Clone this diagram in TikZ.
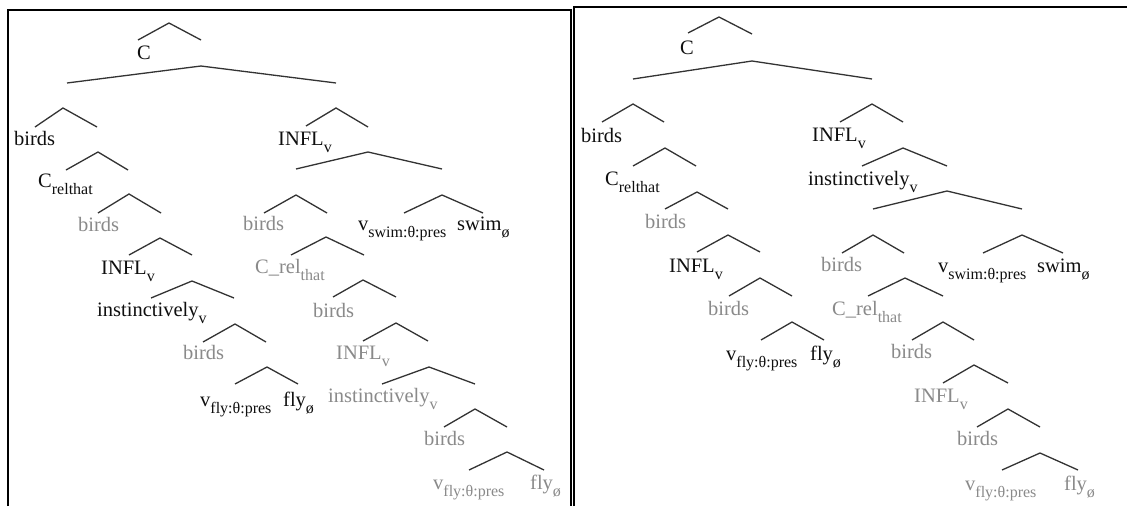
\documentclass[tikz,border=0pt]{standalone}
\usepackage{fontspec}
\setmainfont{Liberation Serif}
\definecolor{inkblack}{HTML}{0F0F0F}
\definecolor{inkgray}{HTML}{8A8A8A}
\definecolor{branchcol}{HTML}{333333}
\newcommand\lsub[1]{\raisebox{-7pt}{\fontsize{16}{18}\selectfont #1}}
\tikzset{
  lbl/.style={inner sep=0pt, anchor=base west, text=inkblack,
              font=\fontsize{20.5}{24}\selectfont},
  trace/.style={lbl, text=inkgray},
  branchline/.style={draw=branchcol, line width=1.3pt, line join=miter},
  frame/.style={draw=black, line width=2pt}
}
\begin{document}
\begin{tikzpicture}[x=1pt,y=-1pt]
\useasboundingbox (0,0) rectangle (1127,506);
\fill[white] (0,0) rectangle (1127,506);

% panel frames
\draw[frame] (8,506) -- (8,10) -- (571,10) -- (571,506);
\draw[frame] (574,506) -- (574,7) -- (1127,7);

% ---------------- left tree ----------------
\node[lbl] (Lc) at (137,59) {C};
\node[lbl] (Lbirds1) at (14,145) {birds};
\node[lbl] (Linfl1) at (278,145) {INFL\lsub{v}};
\node[lbl] (Lcrel) at (38,187) {C\lsub{relthat}};
\node[trace] (Lbirds2) at (78,231) {birds};
\node[trace] (Lbirds3) at (243,230) {birds};
\node[lbl] (Lvswim) at (358,230) {v\lsub{swim:θ:pres}};
\node[lbl] (Lswim) at (457,230) {swim\lsub{ø}};
\node[lbl] (Linfl2) at (101,274) {INFL\lsub{v}};
\node[trace] (Lcrel2) at (255,273) {C\_rel\lsub{that}};
\node[lbl] (Linst1) at (97,316) {instinctively\lsub{v}};
\node[trace] (Lbirds4) at (313,317) {birds};
\node[trace] (Lbirds5) at (183,359) {birds};
\node[trace] (Linfl3) at (336,359) {INFL\lsub{v}};
\node[lbl] (Lvfly1) at (200,406) {v\lsub{fly:θ:pres}};
\node[lbl] (Lfly1) at (283,406) {fly\lsub{ø}};
\node[trace] (Linst2) at (328,402) {instinctively\lsub{v}};
\node[trace] (Lbirds6) at (424,445) {birds};
\node[trace] (Lvfly2) at (433,489) {v\lsub{fly:θ:pres}};
\node[trace] (Lfly2) at (530,489) {fly\lsub{ø}};

\draw[branchline] (138,40) -- (169,23) -- (201,40);
\draw[branchline] (67,83) -- (201,66) -- (336,83);
\draw[branchline] (35,127) -- (63,108) -- (97,127);
\draw[branchline] (306,126) -- (336,108) -- (368,127);
\draw[branchline] (66,170) -- (98,152) -- (128,170);
\draw[branchline] (296,169) -- (368,152) -- (442,169);
\draw[branchline] (98,213) -- (129,194) -- (161,213);
\draw[branchline] (264,213) -- (296,195) -- (327,213);
\draw[branchline] (404,213) -- (442,195) -- (483,213);
\draw[branchline] (129,255) -- (160,238) -- (192,255);
\draw[branchline] (291,255) -- (326,237) -- (364,255);
\draw[branchline] (151,298) -- (192,281) -- (234,298);
\draw[branchline] (333,297) -- (363,280) -- (396,297);
\draw[branchline] (203,342) -- (235,324) -- (266,342);
\draw[branchline] (363,341) -- (396,323) -- (428,341);
\draw[branchline] (235,384) -- (267,367) -- (298,384);
\draw[branchline] (382,384) -- (429,367) -- (475,384);
\draw[branchline] (444,427) -- (475,409) -- (507,427);
\draw[branchline] (469,470) -- (507,452) -- (544,470);

% ---------------- right tree ----------------
\node[lbl] (Rc) at (680,54) {C};
\node[lbl] (Rbirds1) at (581,142) {birds};
\node[lbl] (Rinfl1) at (812,141) {INFL\lsub{v}};
\node[lbl] (Rcrel) at (605,185) {C\lsub{relthat}};
\node[lbl] (Rinst) at (808,185) {instinctively\lsub{v}};
\node[trace] (Rbirds2) at (645,228) {birds};
\node[lbl] (Rinfl2) at (669,272) {INFL\lsub{v}};
\node[trace] (Rbirds3) at (821,271) {birds};
\node[lbl] (Rvswim) at (938,272) {v\lsub{swim:θ:pres}};
\node[lbl] (Rswim) at (1037,272) {swim\lsub{ø}};
\node[trace] (Rbirds4) at (708,315) {birds};
\node[trace] (Rcrel2) at (832,315) {C\_rel\lsub{that}};
\node[lbl] (Rvfly1) at (726,360) {v\lsub{fly:θ:pres}};
\node[lbl] (Rfly1) at (810,360) {fly\lsub{ø}};
\node[trace] (Rbirds5) at (891,358) {birds};
\node[trace] (Rinfl3) at (914,402) {INFL\lsub{v}};
\node[trace] (Rbirds6) at (957,445) {birds};
\node[trace] (Rvfly2) at (965,490) {v\lsub{fly:θ:pres}};
\node[trace] (Rfly2) at (1064,490) {fly\lsub{ø}};

\draw[branchline] (688,33) -- (719,17) -- (752,34);
\draw[branchline] (633,79) -- (752,61) -- (872,79);
\draw[branchline] (602,122) -- (633,104) -- (664,122);
\draw[branchline] (840,122) -- (872,104) -- (903,122);
\draw[branchline] (633,166) -- (665,148) -- (696,166);
\draw[branchline] (862,166) -- (903,148) -- (947,166);
\draw[branchline] (665,209) -- (697,192) -- (728,209);
\draw[branchline] (873,209) -- (947,191) -- (1022,209);
\draw[branchline] (697,252) -- (728,235) -- (760,252);
\draw[branchline] (842,253) -- (873,235) -- (904,253);
\draw[branchline] (983,253) -- (1022,235) -- (1063,253);
\draw[branchline] (729,296) -- (760,278) -- (792,296);
\draw[branchline] (868,296) -- (905,278) -- (943,296);
\draw[branchline] (761,340) -- (792,322) -- (824,340);
\draw[branchline] (912,340) -- (943,322) -- (974,340);
\draw[branchline] (943,383) -- (974,365) -- (1008,383);
\draw[branchline] (977,427) -- (1008,409) -- (1040,427);
\draw[branchline] (1002,470) -- (1040,453) -- (1078,470);
\end{tikzpicture}
\end{document}
